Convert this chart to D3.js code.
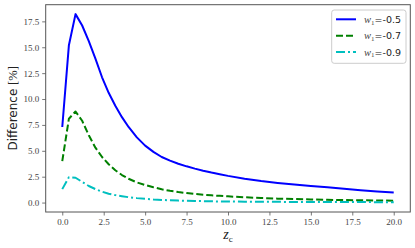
<!DOCTYPE html>
<html>
<head>
<meta charset="utf-8">
<script src="https://cdn.jsdelivr.net/npm/d3@7"></script>
<style>
html,body{margin:0;padding:0;background:#fff;}
svg{display:block;}
</style>
</head>
<body>
<script>
// ---- data ----
const zValues = [0,0.4,0.8,1.2,1.6,2.0,2.4,2.8,3.2,3.6,4.0,4.5,5,5.5,6,6.5,7,7.5,8,8.5,9,9.5,10,11,12,13,14,15,16,17,18,19,20];
const seriesW05 = [7.3,15.2,18.2,17.1,15.6,13.9,12.1,10.6,9.35,8.25,7.3,6.3,5.5,4.9,4.4,4.05,3.75,3.5,3.28,3.08,2.9,2.74,2.58,2.3,2.08,1.9,1.74,1.6,1.47,1.33,1.2,1.08,0.97];
const seriesW07 = [4.0,8.1,8.8,7.9,6.5,5.3,4.4,3.7,3.12,2.66,2.3,1.95,1.7,1.48,1.28,1.14,1.02,0.92,0.83,0.76,0.7,0.65,0.6,0.51,0.44,0.38,0.34,0.3,0.27,0.24,0.22,0.2,0.18];
const seriesW09 = [1.3,2.45,2.4,2.0,1.6,1.3,1.05,0.85,0.72,0.62,0.52,0.43,0.36,0.3,0.26,0.22,0.19,0.17,0.15,0.14,0.12,0.11,0.1,0.09,0.08,0.07,0.06,0.06,0.05,0.05,0.05,0.04,0.04];
const legendLabels = ["-0.5","-0.7","-0.9"];
const xTicks = [0,2.5,5,7.5,10,12.5,15,17.5,20];
const yTicks = [0,2.5,5,7.5,10,12.5,15,17.5];

const W = 415, H = 248;
const margin = {left: 45.7, right: W - 410.3, top: 4.7, bottom: H - 212};

const svg = d3.select("body").append("svg").attr("width", W).attr("height", H);

const x = d3.scaleLinear().domain([-1, 21]).range([margin.left, W - margin.right]);
const y = d3.scaleLinear().domain([-0.91, 19.11]).range([H - margin.bottom, margin.top]);

const tickFont = "'Liberation Serif','DejaVu Serif',serif";
const axisColor = "#555";

// axes
const gx = svg.append("g").attr("transform", `translate(0,${H - margin.bottom})`)
  .call(d3.axisBottom(x).tickValues(xTicks).tickFormat(d3.format(".1f")).tickSize(3.5).tickPadding(3));
const gy = svg.append("g").attr("transform", `translate(${margin.left},0)`)
  .call(d3.axisLeft(y).tickValues(yTicks).tickFormat(d3.format(".1f")).tickSize(3.5).tickPadding(3));
[gx, gy].forEach(g => {
  g.select(".domain").remove();
  g.selectAll(".tick line").attr("stroke", axisColor).attr("stroke-width", 0.8);
  g.selectAll(".tick text").attr("fill", "#444").style("font-family", tickFont).style("font-size", "9px");
});

// frame
svg.append("rect")
  .attr("x", margin.left).attr("y", margin.top)
  .attr("width", W - margin.left - margin.right)
  .attr("height", H - margin.top - margin.bottom)
  .attr("fill", "none").attr("stroke", axisColor).attr("stroke-width", 1);

// lines
const series = [
  {vals: seriesW05, color: "#0000ff", dash: null},
  {vals: seriesW07, color: "#008000", dash: "7,3"},
  {vals: seriesW09, color: "#00bfbf", dash: "9,3,2,3"}
];
const line = d3.line().x(d => x(d[0])).y(d => y(d[1]));
svg.append("clipPath").attr("id", "clip").append("rect")
  .attr("x", margin.left).attr("y", margin.top)
  .attr("width", W - margin.left - margin.right).attr("height", H - margin.top - margin.bottom);
series.forEach(s => {
  svg.append("path")
    .datum(zValues.map((z, i) => [z, s.vals[i]]))
    .attr("d", line)
    .attr("fill", "none")
    .attr("stroke", s.color)
    .attr("stroke-width", 2)
    .attr("stroke-linejoin", "round")
    .attr("stroke-dasharray", s.dash)
    .attr("clip-path", "url(#clip)");
});

// axis labels
const yl = svg.append("text")
  .attr("transform", `translate(17,${(margin.top + H - margin.bottom) / 2}) rotate(-90)`)
  .attr("text-anchor", "middle").attr("fill", "#222");
yl.append("tspan").text("Difference ").style("font-family", "'DejaVu Sans',sans-serif").style("font-size", "12px");
yl.append("tspan").text("[%]").style("font-family", tickFont).style("font-size", "12.5px");

const xl = svg.append("text")
  .attr("x", 228).attr("y", 239).attr("text-anchor", "middle").attr("fill", "#222")
  .style("font-family", tickFont);
xl.append("tspan").text("z").style("font-style", "italic").style("font-size", "14px");
xl.append("tspan").text("c").attr("dy", 2.5).style("font-size", "9px");

// legend
const lg = svg.append("g");
lg.append("rect")
  .attr("x", 331.7).attr("y", 10).attr("width", 74.3).attr("height", 53.3)
  .attr("rx", 2.5).attr("fill", "#fff").attr("fill-opacity", 0.8)
  .attr("stroke", "#ccc").attr("stroke-width", 1);
series.forEach((s, i) => {
  const yy = 19.3 + i * 16.4;
  lg.append("line").attr("x1", 336).attr("x2", 356).attr("y1", yy).attr("y2", yy)
    .attr("stroke", s.color).attr("stroke-width", 2).attr("stroke-dasharray", s.dash);
  const t = lg.append("text").attr("x", 364).attr("y", yy + 3.5).attr("fill", "#222");
  t.append("tspan").text("w").style("font-family", tickFont).style("font-style", "italic").style("font-size", "10.5px").attr("fill", "#444");
  t.append("tspan").text("1").attr("dy", 1.8).style("font-family", tickFont).style("font-size", "7px").attr("fill", "#444");
  t.append("tspan").text("=" + legendLabels[i]).attr("dy", -1.8).style("font-family", "'DejaVu Sans',sans-serif").style("font-size", "9.5px");
});
</script>
</body>
</html>
